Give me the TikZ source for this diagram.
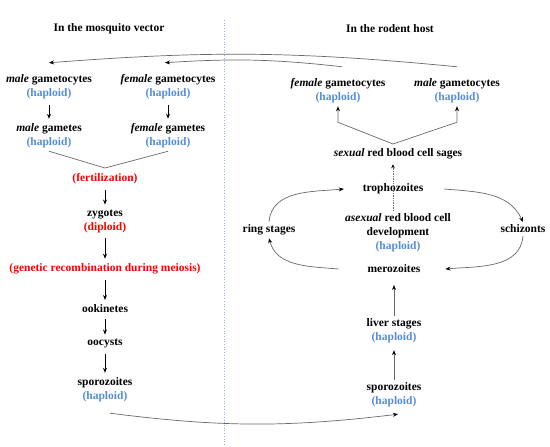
\documentclass[tikz,border=0pt]{standalone}
\usepackage{fontspec}
\setmainfont{Liberation Serif}
\usepackage{xcolor}
\usepackage{tikz}
\usetikzlibrary{arrows.meta, positioning}
\definecolor{haploidblue}{RGB}{85, 142, 213}
\definecolor{eventred}{RGB}{255, 0, 0}
\definecolor{curvegray}{RGB}{105, 105, 105}
\definecolor{dividerblue}{RGB}{140, 180, 226}
\tikzset{
  stage/.style={font=\bfseries\fontsize{11.5}{14}\selectfont, align=center,
              inner sep=1pt, outer sep=2pt},
  heading/.style={font=\bfseries\fontsize{11.5}{14}\selectfont, inner sep=1pt},
  arrow/.style={-{Stealth[length=5pt, width=4pt]}, line width=0.7pt, color=black,
              shorten <=3pt, shorten >=2pt},
  grayarrow/.style={-{Stealth[length=5pt, width=4pt, color=black]}, line width=0.7pt,
              color=curvegray},
  grayline/.style={line width=0.7pt, color=curvegray},
  dotarrow/.style={-{Stealth[length=4pt, width=3.5pt, color=black]}, densely dotted,
              line width=0.7pt, color=curvegray, shorten >=2pt},
  divider/.style={dotted, line width=0.7pt, color=dividerblue},
}

\begin{document}
\begin{tikzpicture}[x=1pt, y=1pt]
  \useasboundingbox (0,0) rectangle (550,-447);

  % divider between the two hosts
  \coordinate (divtop) at (224,-20);
  \coordinate (divbot) at (224,-447);
  \draw[divider] (divtop) -- (divbot);

  \node[heading] (mosqtitle) at (109,-29) {In the mosquito vector};
  \node[heading] (rodtitle) at (390,-29) {In the rodent host};

  % mosquito vector
  \node[stage] (malecyte) at (49,-87) {\textit{male} gametocytes\\\textcolor{haploidblue}{(haploid)}};
  \node[stage] (femcyte) at (168,-87) {\textit{female} gametocytes\\\textcolor{haploidblue}{(haploid)}};
  \node[stage] (malegam) at (49,-136) {\textit{male} gametes\\\textcolor{haploidblue}{(haploid)}};
  \node[stage] (femgam) at (168,-136) {\textit{female} gametes\\\textcolor{haploidblue}{(haploid)}};
  \coordinate (fertjoin) at (105,-168);
  \node[stage, text=eventred] (fert) at (105,-179) {(fertilization)};
  \node[stage] (zygote) at (105,-221) {zygotes\\\textcolor{eventred}{(diploid)}};
  \node[stage, text=eventred] (recomb) at (105,-269) {(genetic recombination during meiosis)};
  \node[stage] (ookin) at (105,-309) {ookinetes};
  \node[stage] (oocyst) at (105,-344) {oocysts};
  \node[stage] (sporomosq) at (105,-390) {sporozoites\\\textcolor{haploidblue}{(haploid)}};

  \draw[arrow] (malecyte) -- (malegam);
  \draw[arrow] (femcyte) -- (femgam);
  \draw[grayline] (malegam.south) -- (fertjoin) -- (femgam.south);
  \draw[arrow] (fert) -- (zygote);
  \draw[arrow] (zygote) -- (recomb);
  \draw[arrow] (recomb) -- (ookin);
  \draw[arrow] (ookin) -- (oocyst);
  \draw[arrow] (oocyst) -- (sporomosq);

  % rodent host
  \node[stage] (femcyteR) at (338,-91) {\textit{female} gametocytes\\\textcolor{haploidblue}{(haploid)}};
  \node[stage] (malecyteR) at (457,-91) {\textit{male} gametocytes\\\textcolor{haploidblue}{(haploid)}};
  \coordinate (sexjoin) at (393,-144);
  \node[stage] (sexual) at (398,-154) {\textit{sexual} red blood cell sages};
  \node[stage] (tropho) at (393,-189) {trophozoites};
  \node[stage] (asexual) at (398,-233) {\textit{asexual} red blood cell\\development\\\textcolor{haploidblue}{(haploid)}};
  \node[stage] (ring) at (269,-230) {ring stages};
  \node[stage] (schiz) at (523,-229) {schizonts};
  \node[stage] (mero) at (394,-269) {merozoites};
  \node[stage] (liver) at (394,-331) {liver stages\\\textcolor{haploidblue}{(haploid)}};
  \node[stage] (sporohost) at (394,-395) {sporozoites\\\textcolor{haploidblue}{(haploid)}};

  \draw[grayarrow] (sexjoin) -- ([yshift=-16pt]femcyteR.south) -- (femcyteR.south);
  \draw[grayarrow] (sexjoin) -- ([yshift=-16pt]malecyteR.south) -- (malecyteR.south);
  \draw[dotarrow] (asexual.north -| tropho) -- (sexual.south -| tropho);

  \draw[grayarrow] (ring.north) to[out=85, in=185] ([xshift=-16pt]tropho.west);
  \draw[grayarrow] ([xshift=18pt]tropho.east) to[out=-5, in=115] (schiz.north);
  \draw[grayarrow] (schiz.south) to[out=-95, in=5] ([xshift=22pt]mero.east);
  \draw[grayarrow] ([xshift=-26pt]mero.west) to[out=175, in=-75] (ring.south);

  \draw[grayarrow, shorten >=9pt] (liver) -- (mero);
  \draw[grayarrow, shorten >=4pt] (sporohost) -- (liver);

  % transfers between hosts
  \draw[grayarrow] ([yshift=9pt]malecyteR.north) to[bend right=5] ([yshift=9pt]malecyte.north);
  \draw[grayarrow] ([xshift=4pt,yshift=9pt]femcyteR.north) to[bend right=5] ([xshift=-3pt,yshift=9pt]femcyte.north);
  \draw[grayarrow] ([xshift=5pt,yshift=-8pt]sporomosq.south) to[bend right=7] ([xshift=4pt,yshift=-4pt]sporohost.south);
\end{tikzpicture}
\end{document}
